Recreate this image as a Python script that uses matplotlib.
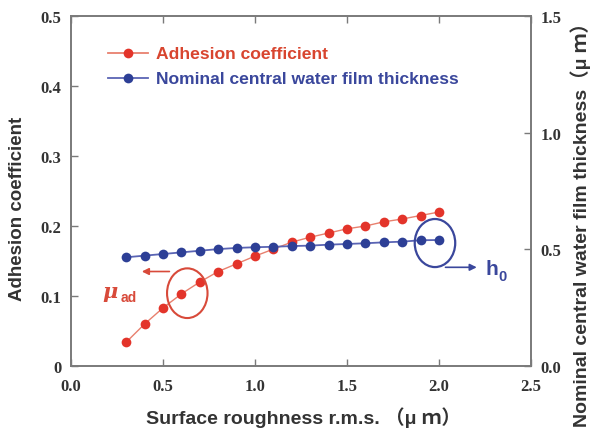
import matplotlib
matplotlib.use("Agg")
import matplotlib.pyplot as plt
from matplotlib.patches import Ellipse

# roughness (um) and the two measured series
roughness = [0.3, 0.4, 0.5, 0.6, 0.7, 0.8, 0.9, 1.0, 1.1, 1.2,
             1.3, 1.4, 1.5, 1.6, 1.7, 1.8, 1.9, 2.0]
adhesion = [0.034, 0.060, 0.083, 0.103, 0.120, 0.135, 0.146, 0.157, 0.167, 0.177,
            0.184, 0.190, 0.196, 0.200, 0.206, 0.210, 0.215, 0.220]
film_thickness = [0.466, 0.473, 0.480, 0.487, 0.494, 0.501, 0.506, 0.509, 0.511, 0.514,
                  0.516, 0.520, 0.523, 0.526, 0.530, 0.533, 0.539, 0.540]

left_ticks = [0, 0.1, 0.2, 0.3, 0.4, 0.5]
left_labels = ["0", "0.1", "0.2", "0.3", "0.4", "0.5"]
right_ticks = [0.0, 0.5, 1.0, 1.5]
x_ticks = [0.0, 0.5, 1.0, 1.5, 2.0, 2.5]

RED = "#e3342a"
RED_LINE = "#e8806e"
RED_TEXT = "#d8452f"
BLUE = "#2d3f96"
BLUE_LINE = "#5a64b4"
BLUE_TEXT = "#3a479c"
SPINE = "#7a7a7a"
LABEL = "#333333"

TICK_FONT = {"family": "Liberation Serif", "weight": "bold", "size": 12}
SANS = ["Liberation Sans", "Noto Sans CJK JP"]

fig = plt.figure(figsize=(5.94, 4.31), dpi=100)
ax = fig.add_axes([0.1195, 0.1485, 0.7745, 0.812])
ax2 = ax.twinx()

ax.plot(roughness, adhesion, "-", color=RED_LINE, lw=1.0, zorder=2)
ax.plot(roughness, adhesion, "o", color=RED, ms=7, mec="none", zorder=3)
ax2.plot(roughness, film_thickness, "-", color=BLUE_LINE, lw=1.3, zorder=2)
ax2.plot(roughness, film_thickness, "o", color=BLUE, ms=7, mec="none", zorder=3)

ax.set_xlim(0, 2.5)
ax.set_ylim(0, 0.5)
ax2.set_ylim(0, 1.5)

ax.set_xticks(x_ticks)
ax.set_xticklabels([f"{t:.1f}" for t in x_ticks], fontdict=TICK_FONT, color=LABEL)
ax.set_yticks(left_ticks)
ax.set_yticklabels(left_labels, fontdict=TICK_FONT, color=LABEL)
ax2.set_yticks(right_ticks)
ax2.set_yticklabels([f"{t:.1f}" for t in right_ticks], fontdict=TICK_FONT, color=LABEL)

ax.tick_params(axis="x", direction="in", top=True, length=5, width=1, color=SPINE, pad=9)
ax.tick_params(axis="y", direction="in", length=5, width=1, color=SPINE, pad=7)
ax2.tick_params(axis="y", direction="in", length=5, width=1, color=SPINE, pad=7)

for a in (ax, ax2):
    for sp in a.spines.values():
        sp.set_color(SPINE)
        sp.set_linewidth(1.2)

# axis titles placed on the figure
fig.text(0.51, 0.03, "Surface roughness r.m.s. （μ ｍ）", family=SANS, weight="bold",
         size=14, color=LABEL, ha="center", va="center")
fig.text(0.030, 0.515, "Adhesion coefficient", family=SANS, weight="bold",
         size=13.5, color=LABEL, rotation=90, ha="center", va="center")
fig.text(0.977, 0.49, "Nominal central water film thickness（μ ｍ）", family=SANS,
         weight="bold", size=14, color=LABEL, rotation=90, ha="center", va="center")

# legend drawn by hand so the handles sit where they should
for y, col, lcol, tcol, text in [
    (0.447, RED, RED_LINE, RED_TEXT, "Adhesion coefficient"),
    (0.411, BLUE, BLUE_LINE, BLUE_TEXT, "Nominal central water film thickness"),
]:
    ax.plot([0.20, 0.42], [y, y], "-", color=lcol, lw=1.3, clip_on=False)
    ax.plot([0.31], [y], "o", color=col, ms=7, mec="none")
    ax.text(0.46, y, text, color=tcol, family=SANS, weight="bold",
            size=12.6, va="center", ha="left")

# mu_ad marker: ellipse round the red series and arrow pointing to left axis
ax.add_patch(Ellipse((0.632, 0.104), 0.22, 0.071, fill=False,
                     ec="#d84a3a", lw=1.5, zorder=4))
ax.annotate("", xy=(0.37, 0.135), xytext=(0.55, 0.135),
            arrowprops=dict(arrowstyle="-|>", color="#d84a3a", lw=1.2,
                            mutation_scale=10))
ax.text(0.17, 0.107, "μ", color="#d84a3a", family="DejaVu Serif", size=15,
        va="center", ha="left", style="italic", weight="bold")
ax.text(0.27, 0.098, "ad", color="#d84a3a", family=SANS, weight="bold",
        size=10, va="center", ha="left")

# h0 marker: ellipse round the blue series and arrow pointing to right axis
ax2.add_patch(Ellipse((1.978, 0.527), 0.22, 0.206, fill=False,
                      ec=BLUE_TEXT, lw=1.6, zorder=4))
ax2.annotate("", xy=(2.22, 0.423), xytext=(2.02, 0.423),
             arrowprops=dict(arrowstyle="-|>", color=BLUE_TEXT, lw=1.2,
                             mutation_scale=10))
ax2.text(2.25, 0.42, "h", color=BLUE_TEXT, family=SANS, weight="bold",
         size=15, va="center", ha="left")
ax2.text(2.325, 0.385, "0", color=BLUE_TEXT, family=SANS, weight="bold",
         size=10.5, va="center", ha="left")

fig.savefig("out.png", dpi=100)
